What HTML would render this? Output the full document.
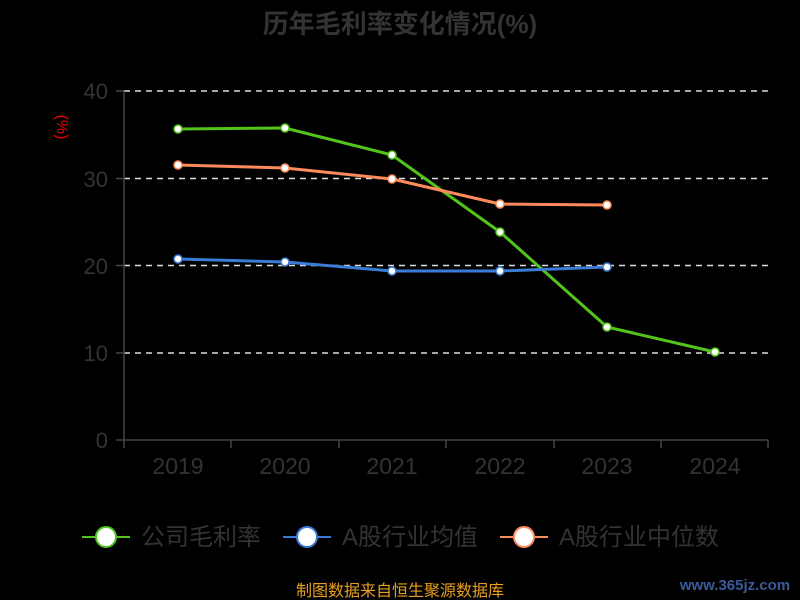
<!DOCTYPE html>
<html><head><meta charset="utf-8"><style>
html,body{margin:0;padding:0;background:#000;width:800px;height:600px;overflow:hidden}
text{font-family:"Liberation Sans","Noto Sans CJK SC",sans-serif}
</style></head><body>
<svg width="800" height="600" xmlns="http://www.w3.org/2000/svg">
<text x="400" y="33" text-anchor="middle" font-size="26" font-weight="bold" fill="#333">历年毛利率变化情况(%)</text>
<g stroke="#ddd" stroke-width="1.5" stroke-dasharray="6,5">
<line x1="124" y1="91" x2="768" y2="91"/><line x1="124" y1="178.5" x2="768" y2="178.5"/>
<line x1="124" y1="265.5" x2="768" y2="265.5"/><line x1="124" y1="353" x2="768" y2="353"/>
</g>
<g stroke="#444" stroke-width="1.5">
<line x1="124" y1="91" x2="124" y2="440"/><line x1="116" y1="440" x2="768" y2="440"/>
<line x1="116" y1="91" x2="124" y2="91"/><line x1="116" y1="178.5" x2="124" y2="178.5"/><line x1="116" y1="265.5" x2="124" y2="265.5"/><line x1="116" y1="353" x2="124" y2="353"/>
<line x1="124" y1="440" x2="124" y2="448"/><line x1="231" y1="440" x2="231" y2="448"/><line x1="339" y1="440" x2="339" y2="448"/><line x1="446" y1="440" x2="446" y2="448"/><line x1="554" y1="440" x2="554" y2="448"/><line x1="661" y1="440" x2="661" y2="448"/><line x1="768" y1="440" x2="768" y2="448"/>
</g>
<g font-size="22" fill="#333" text-anchor="end">
<text x="108" y="99">40</text><text x="108" y="187">30</text><text x="108" y="274">20</text><text x="108" y="361">10</text><text x="108" y="448">0</text>
</g>
<g font-size="23" fill="#333" text-anchor="middle">
<text x="178" y="474">2019</text><text x="285" y="474">2020</text><text x="392" y="474">2021</text><text x="500" y="474">2022</text><text x="607" y="474">2023</text><text x="715" y="474">2024</text>
</g>
<text transform="translate(57,127) rotate(90)" text-anchor="middle" font-size="16" fill="#e00">(%)</text>
<g fill="none" stroke-width="3" stroke-linejoin="round">
<polyline stroke="#52c41a" points="178,129 285,128 392,155 500,232 607,327 715,352"/>
<polyline stroke="#3a7bd5" points="178,259 285,262 392,271 500,271 607,267"/>
<polyline stroke="#ff8a5c" points="178,165 285,168 392,179 500,204 607,205"/>
</g>
<g fill="#fff" stroke-width="1.5">
<g stroke="#52c41a"><circle cx="178" cy="129" r="4"/><circle cx="285" cy="128" r="4"/><circle cx="392" cy="155" r="4"/><circle cx="500" cy="232" r="4"/><circle cx="607" cy="327" r="4"/><circle cx="715" cy="352" r="4"/></g>
<g stroke="#3a7bd5"><circle cx="178" cy="259" r="4"/><circle cx="285" cy="262" r="4"/><circle cx="392" cy="271" r="4"/><circle cx="500" cy="271" r="4"/><circle cx="607" cy="267" r="4"/></g>
<g stroke="#ff8a5c"><circle cx="178" cy="165" r="4"/><circle cx="285" cy="168" r="4"/><circle cx="392" cy="179" r="4"/><circle cx="500" cy="204" r="4"/><circle cx="607" cy="205" r="4"/></g>
</g>
<g stroke-width="2">
<line x1="82" y1="537" x2="130" y2="537" stroke="#52c41a"/><circle cx="106" cy="537" r="10" fill="#fff" stroke="#52c41a"/>
<line x1="283" y1="537" x2="331" y2="537" stroke="#3a7bd5"/><circle cx="307" cy="537" r="10" fill="#fff" stroke="#3a7bd5"/>
<line x1="500" y1="537" x2="548" y2="537" stroke="#ff8a5c"/><circle cx="524" cy="537" r="10" fill="#fff" stroke="#ff8a5c"/>
</g>
<g font-size="24" fill="#333">
<text x="141" y="545">公司毛利率</text><text x="342" y="545">A股行业均值</text><text x="559" y="545">A股行业中位数</text>
</g>
<text x="400" y="596" text-anchor="middle" font-size="16" fill="#e8a020">制图数据来自恒生聚源数据库</text>
<text x="735" y="590" text-anchor="middle" font-size="15" font-weight="bold" fill="#3a5a9a">www.365jz.com</text>
</svg>
</body></html>
